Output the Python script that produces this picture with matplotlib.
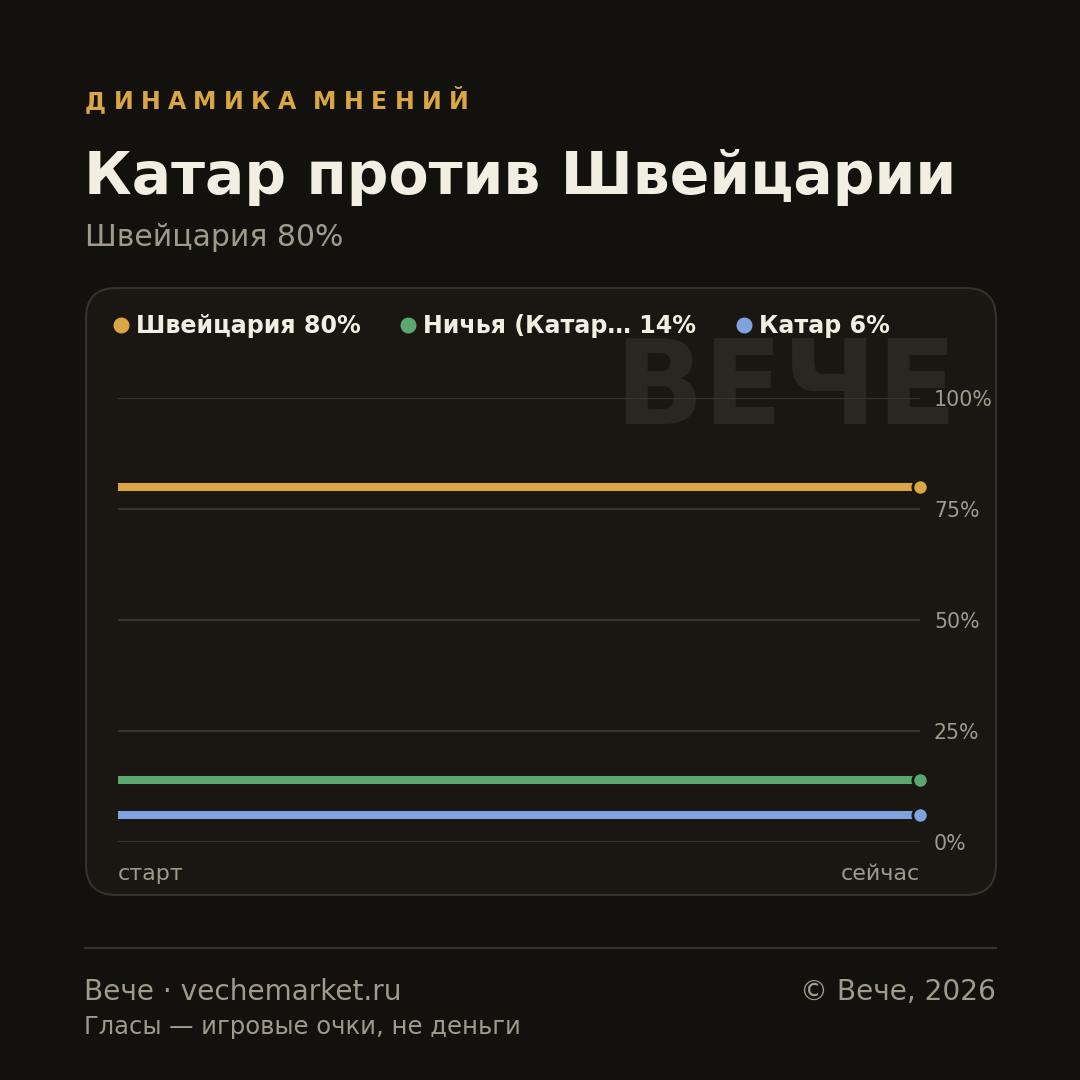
import matplotlib
matplotlib.use("Agg")
import matplotlib.pyplot as plt
from matplotlib.patches import FancyBboxPatch
from matplotlib.lines import Line2D

# data
series_names = ["Швейцария", "Ничья (Катар…", "Катар"]
series_pct = [80, 14, 6]
series_start = [80, 14, 6]
series_now = [80, 14, 6]
series_colors = ["#d9a545", "#5aa870", "#7fa3e0"]
x_labels = ["старт", "сейчас"]
y_ticks = [0, 25, 50, 75, 100]
y_tick_labels = ["0%", "25%", "50%", "75%", "100%"]

BG = "#12110e"
CARD = "#1a1713"
GRID = "#38342d"
MUTED = "#a09a8c"
LIGHT = "#f2eee2"
W = H = 1080


def fx(px):
    return px / W


def fy(py):
    return 1 - py / H


fig = plt.figure(figsize=(10.8, 10.8), dpi=100, facecolor=BG)
plt.rcParams['font.family'] = ['DejaVu Sans']

# card
card = FancyBboxPatch((fx(86), fy(895)), fx(910), (895 - 288) / H,
                      boxstyle="round,pad=0,rounding_size=0.028",
                      transform=fig.transFigure, facecolor=CARD,
                      edgecolor="#36322b", linewidth=1.5, zorder=-2)
fig.patches.append(card)

# watermark
fig.text(fx(957), fy(424), "ВЕЧЕ", fontsize=84, fontweight="bold",
         color="#2a2722", ha="right", va="baseline", zorder=-1)

# kicker with letter spacing
renderer = fig.canvas.get_renderer()
x = fx(85)
for ch in "ДИНАМИКА МНЕНИЙ":
    t = fig.text(x, fy(109), ch, fontsize=17, fontweight="bold",
                 color="#d9a545", ha="left", va="baseline")
    bb = t.get_window_extent(renderer)
    wch = bb.width if ch != " " else 2
    x += (wch + 7.4) / W

fig.text(fx(84), fy(194), "Катар против Швейцарии", fontsize=42,
         fontweight="bold", color=LIGHT, ha="left", va="baseline")
fig.text(fx(85), fy(246), "Швейцария 80%", fontsize=21.5, color=MUTED,
         ha="left", va="baseline")

# legend
lx = 121
for name, pct, col in zip(series_names, series_pct, series_colors):
    fig.add_artist(Line2D([fx(lx)], [fy(325)], marker="o", markersize=10.5,
                          color=col, linestyle="none",
                          transform=fig.transFigure))
    t = fig.text(fx(lx + 15), fy(333), f"{name} {pct}%", fontsize=17.1,
                 fontweight="bold", color=LIGHT, ha="left", va="baseline")
    bb = t.get_window_extent(renderer)
    lx = lx + 15 + bb.width + 47.5

# axes
ax = fig.add_axes([fx(118), fy(842), fx(920 - 118), (842 - 398) / H])
ax.patch.set_alpha(0)
ax.set_xlim(0, 1)
ax.set_ylim(0, 100)
for s in ax.spines.values():
    s.set_visible(False)
ax.set_xticks([])
ax.set_yticks(y_ticks)
ax.set_yticklabels(y_tick_labels)
ax.yaxis.tick_right()
ax.tick_params(axis="y", length=0, pad=10, labelsize=14.8, labelcolor=MUTED)
for yv in y_ticks:
    ax.axhline(yv, color=GRID, linewidth=1.6, zorder=1)

for s0, s1, col in zip(series_start, series_now, series_colors):
    ax.plot([0, 1], [s0, s1], color=col, linewidth=5.8, solid_capstyle="butt",
            zorder=3, clip_on=False)
    ax.plot([1], [s1], marker="o", markersize=11, color=col,
            markeredgecolor=CARD, markeredgewidth=2, zorder=4, clip_on=False)

ax.text(0, -8.5, x_labels[0], transform=ax.transData, ha="left",
        va="baseline", fontsize=16, color=MUTED)
ax.text(1, -8.5, x_labels[1], transform=ax.transData, ha="right",
        va="baseline", fontsize=16, color=MUTED)

# footer
fig.add_artist(Line2D([fx(85), fx(996)], [fy(948), fy(948)], color="#36322b",
                      linewidth=1.5, transform=fig.transFigure))
fig.text(fx(84), fy(1000), "Вече · vechemarket.ru", fontsize=20.2,
         color=MUTED, ha="left", va="baseline")
fig.text(fx(996), fy(1000), "© Вече, 2026", fontsize=20.2,
         color=MUTED, ha="right", va="baseline")
fig.text(fx(84), fy(1034), "Гласы — игровые очки, не деньги", fontsize=17.5,
         color=MUTED, ha="left", va="baseline")

fig.savefig("out.png", dpi=100, facecolor=BG)
